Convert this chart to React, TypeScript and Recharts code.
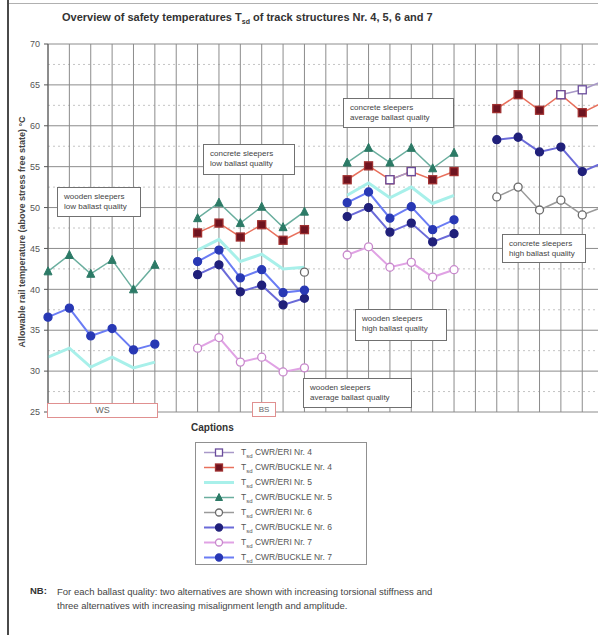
import React from "react";
import { LineChart, Line, XAxis, YAxis, CartesianGrid, ReferenceLine } from "recharts";

// slot positions along the x axis: 4 groups of 6 alternatives, one empty slot between groups
const slots = [0, 1, 2, 3, 4, 5, 6, 7, 8, 9, 10, 11, 12, 13, 14, 15, 16, 17, 18, 19, 20, 21, 22, 23, 24, 25, 26, 27];
const yTicks = [25, 30, 35, 40, 45, 50, 55, 60, 65, 70];
const yMinor = [27.5, 32.5, 37.5, 42.5, 47.5, 52.5, 57.5, 62.5, 67.5];

const N = null;
// wooden/low (0-5) | gap | concrete/low (7-12) | gap | concrete/average (14-19) | gap | concrete/high (21-26)
const eriNr4 = [N, N, N, N, N, N, N, N, N, N, N, N, N, N, N, N, 53.4, 54.4, N, N, N, N, N, N, 63.8, 64.4, 65.5];
const buckleNr4 = [N, N, N, N, N, N, N, 46.9, 48.1, 46.4, 47.9, 46.0, 47.3, N, 53.4, 55.1, 53.4, 54.4, 53.4, 54.4, N, 62.1, 63.8, 61.9, 63.8, 61.6, 62.9];
const eriNr5 = [31.7, 32.8, 30.5, 31.7, 30.4, 31.1, N, 44.8, 46.1, 43.4, 44.3, 42.5, 42.7, N, 51.5, 53.0, 51.2, 52.5, 50.5, 51.5, N, N, N, N, N, N, N];
const buckleNr5 = [42.2, 44.2, 41.9, 43.6, 40.0, 43.0, N, 48.7, 50.6, 48.1, 50.1, 47.6, 49.5, N, 55.5, 57.3, 55.5, 57.3, 54.8, 56.7, N, N, N, N, N, N, N];
const eriNr6 = [N, N, N, N, N, N, N, N, N, N, N, N, 42.1, N, N, N, N, N, N, N, N, 51.3, 52.5, 49.7, 50.9, 49.1, 50.1];
const buckleNr6 = [N, N, N, N, N, N, N, 41.8, 43.0, 39.7, 40.5, 38.1, 38.9, N, 48.9, 50.0, 47.0, 48.1, 45.8, 46.8, N, 58.3, 58.6, 56.8, 57.4, 54.4, 55.5];
const eriNr7 = [N, N, N, N, N, N, N, 32.8, 34.1, 31.1, 31.7, 29.9, 30.4, N, 44.2, 45.2, 42.7, 43.3, 41.5, 42.4, N, N, N, N, N, N, N];
const buckleNr7 = [36.6, 37.7, 34.3, 35.2, 32.6, 33.3, N, 43.4, 44.8, 41.4, 42.4, 39.6, 39.9, N, 50.6, 51.9, 48.7, 50.1, 47.3, 48.5, N, N, N, N, N, N, N];

const data = slots.map((x) => ({
  x,
  eri4: eriNr4[x] ?? null,
  buckle4: buckleNr4[x] ?? null,
  eri5: eriNr5[x] ?? null,
  buckle5: buckleNr5[x] ?? null,
  eri6: eriNr6[x] ?? null,
  buckle6: buckleNr6[x] ?? null,
  eri7: eriNr7[x] ?? null,
  buckle7: buckleNr7[x] ?? null,
}));

type Shape = "square" | "triangle" | "circle" | "diamond" | "none";

interface SeriesDef {
  key: string;
  label: string;
  line: string;
  fill: string;
  stroke: string;
  shape: Shape;
  width: number;
}

// legend order
const series: SeriesDef[] = [
  { key: "eri4", label: "CWR/ERI Nr. 4", line: "#a898c8", fill: "#ffffff", stroke: "#6a4c9c", shape: "square", width: 1.5 },
  { key: "buckle4", label: "CWR/BUCKLE Nr. 4", line: "#e8705c", fill: "#6e1420", stroke: "#a03030", shape: "square", width: 1.5 },
  { key: "eri5", label: "CWR/ERI Nr. 5", line: "#a8f0ea", fill: "#a8f0ea", stroke: "#a8f0ea", shape: "none", width: 3 },
  { key: "buckle5", label: "CWR/BUCKLE Nr. 5", line: "#6aae9e", fill: "#2c7a66", stroke: "#2c7a66", shape: "triangle", width: 1.5 },
  { key: "eri6", label: "CWR/ERI Nr. 6", line: "#9a9a9a", fill: "#ffffff", stroke: "#6a6a6a", shape: "circle", width: 1.5 },
  { key: "buckle6", label: "CWR/BUCKLE Nr. 6", line: "#6a6ad8", fill: "#20207a", stroke: "#20207a", shape: "circle", width: 2 },
  { key: "eri7", label: "CWR/ERI Nr. 7", line: "#e0a2e4", fill: "#ffffff", stroke: "#c888cc", shape: "circle", width: 2 },
  { key: "buckle7", label: "CWR/BUCKLE Nr. 7", line: "#6a7cf4", fill: "#2838b4", stroke: "#2838b4", shape: "circle", width: 2 },
];

// drawing order (bottom to top)
const drawOrder = ["eri5", "eri7", "eri6", "buckle6", "buckle7", "buckle5", "buckle4", "eri4"];

const Marker = ({ shape, cx, cy, fill, stroke, r = 4 }: { shape: Shape; cx: number; cy: number; fill: string; stroke: string; r?: number }) => {
  if (shape === "square") {
    return <rect x={cx - r} y={cy - r} width={r * 2} height={r * 2} fill={fill} stroke={stroke} strokeWidth={1.3} />;
  }
  if (shape === "triangle") {
    return <polygon points={`${cx},${cy - r - 0.5} ${cx + r},${cy + r - 0.5} ${cx - r},${cy + r - 0.5}`} fill={fill} stroke={stroke} strokeWidth={1} />;
  }
  if (shape === "diamond") {
    return <polygon points={`${cx},${cy - r} ${cx + r},${cy} ${cx},${cy + r} ${cx - r},${cy}`} fill={fill} stroke={stroke} strokeWidth={1} />;
  }
  if (shape === "circle") {
    return <circle cx={cx} cy={cy} r={r} fill={fill} stroke={stroke} strokeWidth={1.3} />;
  }
  return null;
};

const makeDot = (s: SeriesDef) => (props: any) => {
  const { cx, cy, value, index } = props;
  const k = `${s.key}-${index}`;
  if (value == null || cx == null || cy == null || s.shape === "none") return <g key={k} />;
  return (
    <g key={k}>
      <Marker shape={s.shape} cx={cx} cy={cy} fill={s.fill} stroke={s.stroke} />
    </g>
  );
};

const Tsd = ({ rest }: { rest: string }) => (
  <span>
    T<sub style={{ fontSize: 6 }}>sd</sub> {rest}
  </span>
);

const boxStyle: React.CSSProperties = {
  position: "absolute",
  border: "1px solid #707070",
  background: "#ffffff",
  fontSize: 8,
  lineHeight: "10px",
  color: "#444",
  padding: "4px 6px",
  boxSizing: "border-box",
};

const notes = [
  { l1: "wooden sleepers", l2: "low ballast quality", left: 57, top: 187, w: 84, h: 30 },
  { l1: "concrete sleepers", l2: "low ballast quality", left: 203, top: 144, w: 92, h: 31 },
  { l1: "concrete sleepers", l2: "average ballast quality", left: 343, top: 98, w: 111, h: 30 },
  { l1: "concrete sleepers", l2: "high ballast quality", left: 502, top: 234, w: 84, h: 29 },
  { l1: "wooden sleepers", l2: "high ballast quality", left: 355, top: 309, w: 92, h: 32 },
  { l1: "wooden sleepers", l2: "average ballast quality", left: 303, top: 378, w: 109, h: 30 },
];

export default function App() {
  return (
    <div style={{ position: "absolute", left: 0, top: 0, width: 598, height: 635, overflow: "hidden", background: "#fff", fontFamily: "'Liberation Sans', Arial, sans-serif" }}>
      {/* page frame */}
      <div style={{ position: "absolute", left: 7, top: 0, width: 2, height: 635, background: "#4a4a4a" }} />
      <div style={{ position: "absolute", left: 9, top: 3, width: 589, height: 1, background: "#b0b0b0" }} />

      <div style={{ position: "absolute", left: 62, top: 11, fontSize: 11, fontWeight: "bold", color: "#333", whiteSpace: "nowrap" }}>
        Overview of safety temperatures T<sub style={{ fontSize: 7 }}>sd</sub> of track structures Nr. 4, 5, 6 and 7
      </div>

      <div
        style={{
          position: "absolute",
          left: 22,
          top: 232,
          transform: "translate(-50%, -50%) rotate(-90deg)",
          fontSize: 9,
          fontWeight: "bold",
          color: "#444",
          whiteSpace: "nowrap",
        }}
      >
        Allowable rail temperature (above stress free state) °C
      </div>

      <div style={{ position: "absolute", left: 0, top: 0 }}>
        <LineChart width={630} height={420} data={data} margin={{ top: 44, right: 5, bottom: 7, left: 0 }}>
          <CartesianGrid stroke="#8c8c8c" strokeWidth={1} vertical={false} />
          {yMinor.map((v) => (
            <ReferenceLine key={`m${v}`} y={v} stroke="#c4c4c4" strokeDasharray="2 3" />
          ))}
          {slots.map((s) => (
            <ReferenceLine key={`v${s}`} x={s} stroke="#8c8c8c" strokeWidth={1} />
          ))}
          <XAxis
            dataKey="x"
            type="number"
            domain={[0, 27]}
            ticks={slots}
            tick={false}
            tickLine={false}
            axisLine={false}
            height={1}
          />
          <YAxis
            type="number"
            domain={[25, 70]}
            ticks={yTicks}
            width={48}
            tickSize={4}
            tickMargin={4}
            tick={{ fontSize: 9, fill: "#555", fontFamily: "'Liberation Sans', Arial, sans-serif" }}
            stroke="#555"
          />
          {drawOrder.map((k) => {
            const s = series.find((d) => d.key === k)!;
            return (
              <Line
                key={k}
                dataKey={k}
                type="linear"
                stroke={s.line}
                strokeWidth={s.width}
                connectNulls={false}
                isAnimationActive={false}
                dot={makeDot(s)}
                activeDot={false}
              />
            );
          })}
        </LineChart>
      </div>

      {notes.map((n) => (
        <div key={n.l1 + n.l2} style={{ ...boxStyle, left: n.left, top: n.top, width: n.w, height: n.h }}>
          <div>{n.l1}</div>
          <div>{n.l2}</div>
        </div>
      ))}

      {/* bracket boxes under the first groups */}
      <div style={{ position: "absolute", left: 47, top: 403, width: 111, height: 15, border: "1px solid #e09090", boxSizing: "border-box", fontSize: 9, color: "#666", textAlign: "center", lineHeight: "13px", background: "#fff" }}>
        WS
      </div>
      <div style={{ position: "absolute", left: 252, top: 402, width: 24, height: 15, border: "1px solid #e09090", boxSizing: "border-box", fontSize: 8, color: "#666", textAlign: "center", lineHeight: "13px", background: "#fff" }}>
        BS
      </div>

      {/* captions */}
      <div style={{ position: "absolute", left: 191, top: 422, fontSize: 10, fontWeight: "bold", color: "#333" }}>Captions</div>
      <div style={{ position: "absolute", left: 195, top: 442, width: 172, height: 123, border: "1px solid #909090", boxSizing: "border-box", background: "#fff" }}>
        {series.map((s, i) => (
          <div key={s.key} style={{ position: "absolute", left: 0, top: 2 + i * 15, height: 15, width: 170, display: "flex", alignItems: "center" }}>
            <svg width={36} height={15} style={{ marginLeft: 6 }}>
              <line x1={2} y1={7.5} x2={32} y2={7.5} stroke={s.line} strokeWidth={s.width} />
              <Marker shape={s.shape} cx={17} cy={7.5} fill={s.fill} stroke={s.stroke} r={3.5} />
            </svg>
            <span style={{ fontSize: 8.5, color: "#555", marginLeft: 3, whiteSpace: "nowrap" }}>
              <Tsd rest={s.label} />
            </span>
          </div>
        ))}
      </div>

      {/* note */}
      <div style={{ position: "absolute", left: 30, top: 585, fontSize: 9.5, fontWeight: "bold", color: "#333" }}>NB:</div>
      <div style={{ position: "absolute", left: 57, top: 585, width: 540, fontSize: 9.5, color: "#444", lineHeight: "14px" }}>
        For each ballast quality: two alternatives are shown with increasing torsional stiffness and
        <br />
        three alternatives with increasing misalignment length and amplitude.
      </div>
    </div>
  );
}
